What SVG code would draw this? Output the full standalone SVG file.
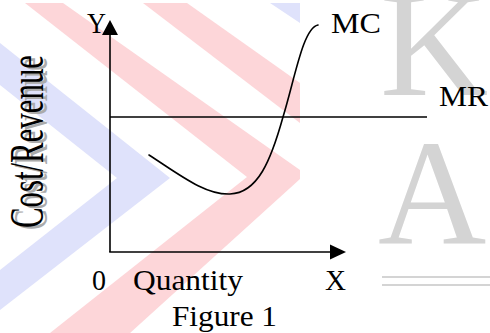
<svg xmlns="http://www.w3.org/2000/svg" width="490" height="333" viewBox="0 0 490 333">
<style>
  .lbl { font-family: "Liberation Serif", "Times New Roman", serif; font-size: 29px; fill: #000; }
  .big { font-size: 48px; }
  .shadow { fill: #ababab; }
  .wm-red { fill: #fdd6d9; }
  .wm-blue { fill: #dfe2fb; }
  .wm-gray { font-family: "Liberation Serif", "Times New Roman", serif; font-size: 150px; fill: #d4d4d4; }
  .ax { stroke: #000; stroke-width: 1.6; fill: none; }
  .curve { stroke: #000; stroke-width: 1.6; fill: none; stroke-linecap: round; }
</style>
<rect x="0" y="0" width="490" height="333" fill="#fff"/>
<g id="watermark">
  <polygon class="wm-blue" points="0,43 170,178 0,310 0,270 117,178 0,85"/>
  <polygon class="wm-blue" points="270,3 300,3 300,23"/>
  <polygon class="wm-red" points="25,3 63,3 300,170 300,179 130,333 50,333 247,177"/>
  <polygon class="wm-red" points="143,3 187,3 300,83 300,123"/>
  <text class="wm-gray" x="380" y="95">K</text>
  <text class="wm-gray" x="378" y="243">A</text>
  <line x1="382" y1="277" x2="490" y2="277" stroke="#d4d4d4" stroke-width="2"/>
  <line x1="382" y1="285" x2="490" y2="285" stroke="#d4d4d4" stroke-width="2"/>
</g>
<g id="connectors">
  <line class="ax" x1="110" y1="252" x2="110" y2="32"/>
  <polygon points="110,20 102,35 118,35" fill="#000"/>
  <line class="ax" x1="109.2" y1="252" x2="332" y2="252"/>
  <polygon points="346,252 330,244.5 330,259.5" fill="#000"/>
  <line class="ax" x1="110" y1="117" x2="427" y2="117"/>
  <path class="curve" d="M149,155 C180,175 205,195 230,194 C258,193 271,160 283,117 C295,78 303,28 318,25"/>
</g>
<g id="axis-y-label">
  <text class="lbl big shadow" transform="translate(47,230) rotate(-90)" textLength="173" lengthAdjust="spacingAndGlyphs">Cost/Revenue</text>
  <text class="lbl big" transform="translate(43,228) rotate(-90)" textLength="173" lengthAdjust="spacingAndGlyphs">Cost/Revenue</text>
</g>
<g id="label-Y"><text class="lbl" x="87" y="33" textLength="19" lengthAdjust="spacingAndGlyphs">Y</text></g>
<g id="label-MC"><text class="lbl" x="331" y="33" textLength="50" lengthAdjust="spacingAndGlyphs">MC</text></g>
<g id="label-MR"><text class="lbl" x="439" y="106" textLength="49" lengthAdjust="spacingAndGlyphs">MR</text></g>
<g id="label-0"><text class="lbl" x="92" y="290" textLength="14" lengthAdjust="spacingAndGlyphs">0</text></g>
<g id="label-Quantity"><text class="lbl" x="133" y="290" textLength="110" lengthAdjust="spacingAndGlyphs">Quantity</text></g>
<g id="label-X"><text class="lbl" x="325" y="290" textLength="21" lengthAdjust="spacingAndGlyphs">X</text></g>
<g id="caption"><text class="lbl" x="172" y="326" textLength="105" lengthAdjust="spacingAndGlyphs">Figure 1</text></g>
</svg>
